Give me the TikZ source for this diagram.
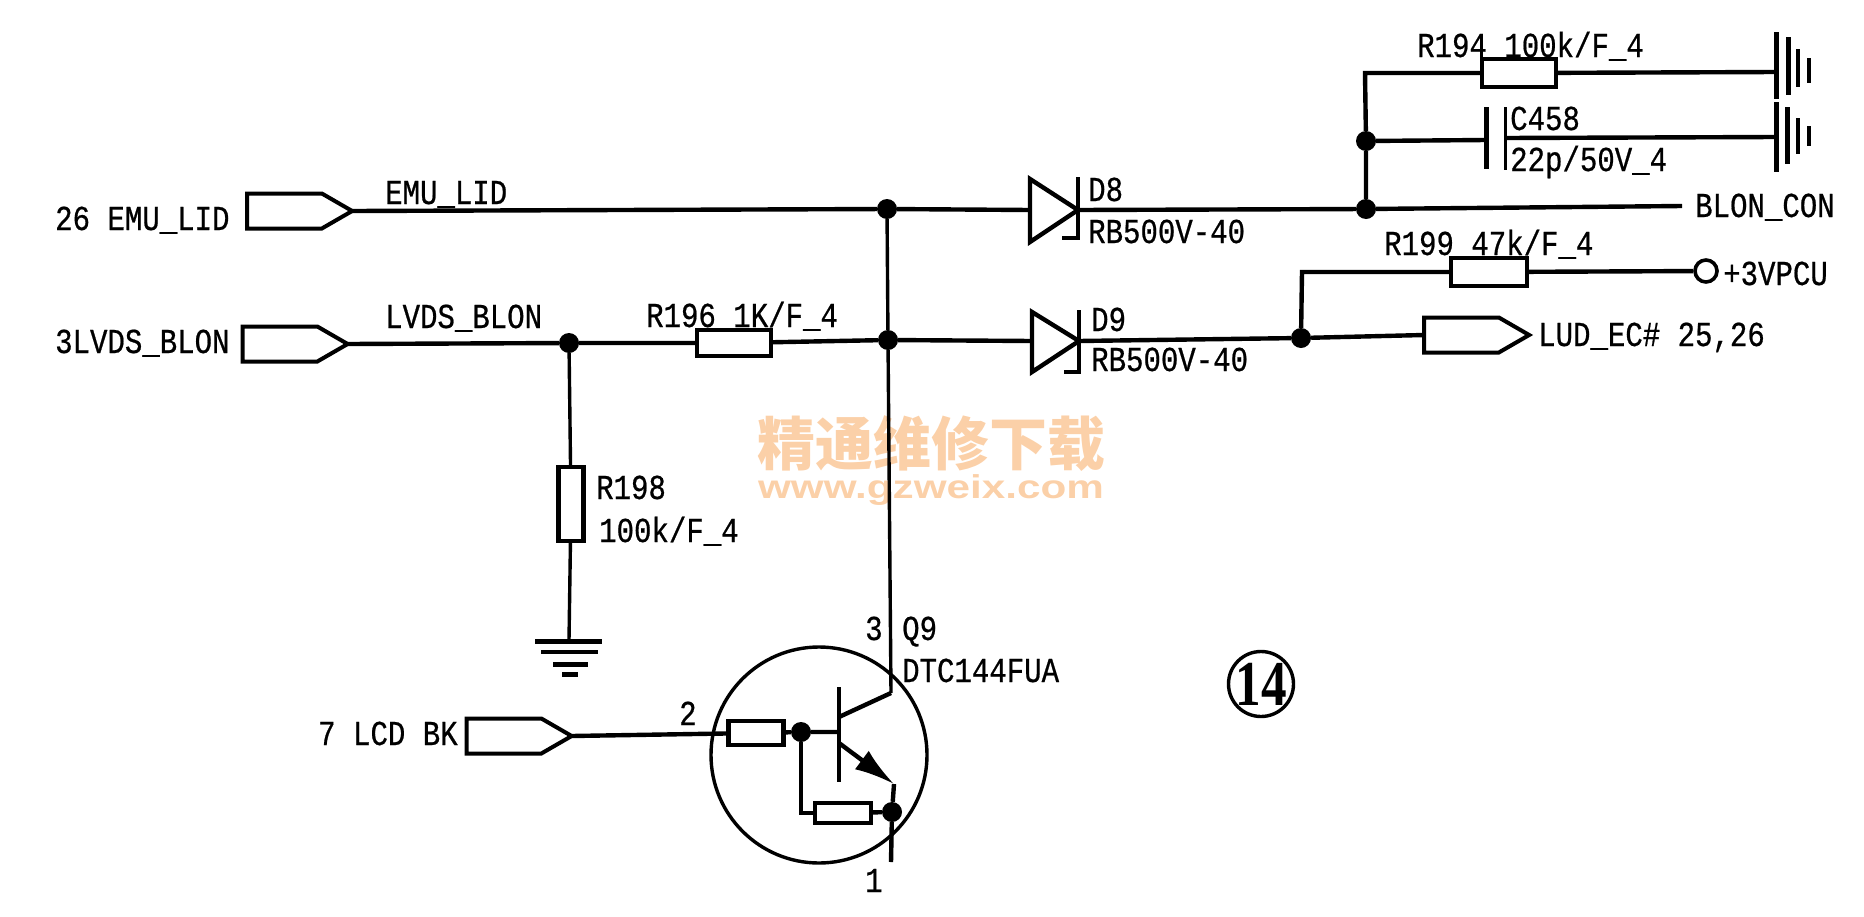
\documentclass[tikz,border=0pt]{standalone}
\usepackage{fontspec}
\usetikzlibrary{shapes.symbols,arrows.meta}
\newfontfamily\schfont[FakeStretch=0.83,FakeBold=0.6]{Liberation Mono}
\newfontfamily\markfont{Noto Sans CJK SC}
\newfontfamily\urlfont[FakeStretch=1.28]{Liberation Sans}
\newfontfamily\numfont[FakeStretch=0.8]{Liberation Serif}
\definecolor{markorange}{HTML}{FBD0A8}
\tikzset{
  wire/.style={line width=4.4pt},
  thin wire/.style={line width=3.4pt},
  dotnode/.style={circle,fill=black,inner sep=0pt,minimum size=20pt},
  res/.style={draw,line width=4.4pt,fill=white,inner sep=0pt,outer sep=0pt},
  sigtag/.style={signal,signal to=east,signal pointer angle=60,draw,line width=4pt,inner sep=0pt,
    outer sep=0pt,minimum width=105pt,minimum height=35pt},
  lbl/.style={anchor=base west,inner sep=0pt,font=\schfont\fontsize{35}{38}\selectfont},
}
\begin{document}
\begin{tikzpicture}[x=1pt,y=-1pt]
\useasboundingbox (0,0) rectangle (1864,916);
% watermark
\node[anchor=center,inner sep=0pt,text=markorange,font=\markfont\bfseries\fontsize{58}{60}\selectfont] (markcn) at (931,444) {精通维修下载};
\node[anchor=center,inner sep=0pt,text=markorange,font=\urlfont\bfseries\fontsize{33}{36}\selectfont] (markurl) at (931,490) {www.gzweix.com};
% input tags
\node[sigtag] (tagemu) at (284.5,211) {};
\node[sigtag] (tagblon) at (280,344) {};
\node[sigtag] (tagbk) at (504,736) {};
\node[sigtag] (tagec) at (1461.5,335) {};
\node[lbl] (txtemu) at (55,230) {26 EMU\_LID};
\node[lbl] (txtblon) at (55,353) {3LVDS\_BLON};
\node[lbl] (txtbk) at (318,745) {7 LCD BK};
\node[lbl] (txtec) at (1538,346) {LUD\_EC\# 25,26};
\node[lbl] (netemu) at (385,204) {EMU\_LID};
\node[lbl] (netblon) at (385,328) {LVDS\_BLON};
% junctions
\node[dotnode] (jemu) at (887,209) {};
\node[dotnode] (jblon) at (888,340) {};
\node[dotnode] (jpull) at (569,343) {};
\node[dotnode] (jcap) at (1366,141) {};
\node[dotnode] (jcon) at (1366,209) {};
\node[dotnode] (jec) at (1301,338) {};
\node[dotnode] (jbase) at (801,732) {};
\node[dotnode] (jemit) at (892,812) {};
% resistors
\node[res,minimum width=74pt,minimum height=28pt] (rtop) at (1519,73) {};
\node[res,minimum width=76pt,minimum height=28pt] (rvpcu) at (1489,272) {};
\node[res,minimum width=74pt,minimum height=26pt] (rblon) at (734,343) {};
\node[res,minimum width=25pt,minimum height=74pt] (rpull) at (571,504) {};
\node[res,minimum width=55pt,minimum height=24pt] (rbase) at (756,733) {};
\node[res,minimum width=56pt,minimum height=20pt] (remit) at (843,813) {};
\node[lbl] (txttop) at (1417,57) {R194 100k/F\_4};
\node[lbl] (txtvpcuR) at (1384,255) {R199 47k/F\_4};
\node[lbl] (txtblonR) at (646,327) {R196 1K/F\_4};
\node[lbl] (txtpull) at (596,499) {R198};
\node[lbl] (txtpullv) at (599,542) {100k/F\_4};
% diodes
\coordinate (dia) at (1030,210);
\coordinate (dik) at (1078,210);
\coordinate (dib) at (1032,341);
\coordinate (dim) at (1079,341);
\draw[wire,line join=miter] (1030,179) -- (dik) -- (1030,242) -- cycle;
\draw[wire,line join=miter] (1032,312) -- (dim) -- (1032,372) -- cycle;
\draw[wire] (1078,177) -- (1078,238) -- (1062,238);
\draw[wire] (1079,310) -- (1079,372) -- (1064,372);
\node[lbl] (txtd8) at (1088,201) {D8};
\node[lbl] (txtd8v) at (1088,243) {RB500V-40};
\node[lbl] (txtd9) at (1091,331) {D9};
\node[lbl] (txtd9v) at (1091,371) {RB500V-40};
% top right
\coordinate (gndtop) at (1776,72);
\coordinate (gndcap) at (1776,137);
\coordinate (plateL) at (1486,140);
\coordinate (plateR) at (1505,138);
\coordinate (cornerT) at (1365,73);
\coordinate (cornerV) at (1302,272);
\coordinate (conend) at (1682,206);
\draw[line width=5pt] (1486,107) -- (1486,169);
\draw[line width=3pt] (1505,107) -- (1505,170);
\draw[line width=5pt] (1776,32) -- (1776,99);
\draw[line width=5pt] (1788,37) -- (1788,95);
\draw[line width=4pt] (1798,49) -- (1798,87);
\draw[line width=4pt] (1809,58) -- (1809,83);
\draw[line width=5pt] (1776,102) -- (1776,172);
\draw[line width=5pt] (1787,107) -- (1787,164);
\draw[line width=4pt] (1798,118) -- (1798,154);
\draw[line width=4pt] (1809,126) -- (1809,146);
\node[circle,draw,line width=3.6pt,fill=white,inner sep=0pt,minimum size=22pt] (vpcu) at (1706,271) {};
\node[lbl] (txtcap) at (1510,130) {C458};
\node[lbl] (txtcapv) at (1510,171) {22p/50V\_4};
\node[lbl] (txtcon) at (1695,217) {BLON\_CON};
\node[lbl] (txtvpcu) at (1723,285) {+3VPCU};
% ground under R198
\coordinate (gndpull) at (569,640);
\draw[line width=5pt] (535,641) -- (602,641);
\draw[line width=4pt] (541,652) -- (598,652);
\draw[line width=5pt] (553,664) -- (588,664);
\draw[line width=5pt] (562,674) -- (578,674);
% transistor
\node[circle,draw,line width=3.4pt,inner sep=0pt,minimum size=216pt] (qcircle) at (819,755) {};
\coordinate (qcol) at (891,693);
\coordinate (qem) at (894,784);
\coordinate (qbar) at (839,732);
\coordinate (qend) at (891,862);
\draw[line width=4pt] (839,687) -- (839,782);
\draw[wire] (839,717) -- (qcol);
\draw[wire,-{Latex[length=40pt,width=23pt]}] (839,743) -- (qem);
\node[lbl] (txtpin3) at (865,640) {3};
\node[lbl] (txtq) at (902,640) {Q9};
\node[lbl] (txtq2) at (902,682) {DTC144FUA};
\node[lbl] (txtpin2) at (679,725) {2};
\node[lbl] (txtpin1) at (865,892) {1};
% circled number
\node[circle,draw,line width=3.4pt,inner sep=-4pt,minimum size=65pt,font=\numfont\bfseries\fontsize{64}{66}\selectfont] (num) at (1261,684) {14};
% wires
\draw[wire] (tagemu.east) -- (jemu) -- (dia);
\draw[wire] (dik) -- (jcon) -- (conend);
\draw[wire] (tagblon.east) -- (jpull) -- (rblon) -- (jblon) -- (dib);
\draw[wire] (dim) -- (jec) -- (tagec.west);
\draw[thin wire] (jemu) -- (jblon) -- (qcol);
\draw[thin wire] (jpull) -- (rpull) -- (gndpull);
\draw[wire] (jcon) -- (jcap) -- (cornerT) -- (rtop) -- (gndtop);
\draw[wire] (jcap) -- (plateL);
\draw[wire] (plateR) -- (gndcap);
\draw[wire] (jec) -- (cornerV) -- (rvpcu) -- (vpcu);
\draw[wire] (tagbk.east) -- (rbase);
\draw[wire] (rbase) -- (jbase) -- (qbar);
\draw[wire] (jbase) |- (remit);
\draw[wire] (remit) -- (jemit);
\draw[wire] (qem) -- (jemit) -- (qend);
\end{tikzpicture}
\end{document}
